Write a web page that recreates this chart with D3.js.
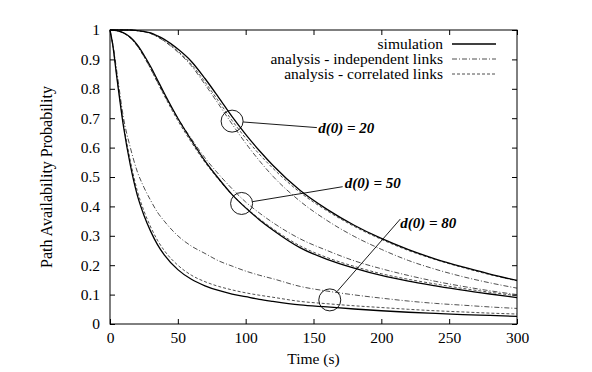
<!DOCTYPE html>
<html>
<head>
<meta charset="UTF-8">
<script src="https://d3js.org/d3.v7.min.js"></script>
<style>
  body { margin: 0; background: #fff; }
  svg text { font-family: "Liberation Serif", "Times New Roman", serif; fill: #000; }
  .axis path { display: none; }
  .axis line { stroke: #000; stroke-width: 1; }
  .axis text { font-size: 15.5px; }
</style>
</head>
<body>
<div id="chart"></div>
<script>
// time axis (s)
var times = [0, 2, 5, 10, 15, 20, 25, 30, 35, 40, 50, 60, 70, 80, 90, 100, 110, 120, 140, 160, 180, 200, 220, 240, 260, 280, 300];

// d(0) = 20
var sim20  = [1, 1, 1, 1, 1, 0.998, 0.995, 0.99, 0.98, 0.968, 0.935, 0.893, 0.835, 0.771, 0.705, 0.645, 0.59, 0.54, 0.455, 0.39, 0.336, 0.291, 0.253, 0.221, 0.194, 0.17, 0.148];
var corr20 = [1, 1, 1, 1, 1, 0.998, 0.994, 0.988, 0.977, 0.963, 0.928, 0.883, 0.823, 0.758, 0.692, 0.632, 0.578, 0.53, 0.448, 0.385, 0.332, 0.288, 0.25, 0.219, 0.192, 0.168, 0.147];
var ind20  = [1, 1, 1, 1, 1, 0.998, 0.994, 0.988, 0.977, 0.962, 0.925, 0.878, 0.815, 0.748, 0.68, 0.615, 0.556, 0.503, 0.418, 0.352, 0.298, 0.254, 0.216, 0.186, 0.161, 0.14, 0.122];

// d(0) = 50
var sim50  = [1, 1, 0.998, 0.99, 0.975, 0.95, 0.915, 0.875, 0.83, 0.785, 0.7, 0.625, 0.555, 0.495, 0.44, 0.395, 0.355, 0.32, 0.26, 0.22, 0.19, 0.165, 0.146, 0.13, 0.115, 0.102, 0.09];
var corr50 = [1, 1, 0.998, 0.99, 0.973, 0.947, 0.91, 0.868, 0.822, 0.777, 0.692, 0.618, 0.55, 0.492, 0.44, 0.397, 0.358, 0.324, 0.266, 0.226, 0.196, 0.171, 0.152, 0.136, 0.121, 0.108, 0.096];
var ind50  = [1, 1, 0.998, 0.99, 0.973, 0.946, 0.91, 0.868, 0.823, 0.78, 0.7, 0.63, 0.565, 0.51, 0.46, 0.415, 0.378, 0.345, 0.29, 0.25, 0.215, 0.188, 0.165, 0.145, 0.128, 0.113, 0.1];

// d(0) = 80
var sim80  = [1, 0.95, 0.84, 0.67, 0.54, 0.44, 0.37, 0.315, 0.27, 0.235, 0.185, 0.152, 0.13, 0.114, 0.102, 0.093, 0.084, 0.077, 0.065, 0.058, 0.051, 0.045, 0.04, 0.036, 0.032, 0.029, 0.026];
var corr80 = [1, 0.95, 0.845, 0.68, 0.555, 0.455, 0.385, 0.33, 0.285, 0.25, 0.2, 0.166, 0.144, 0.128, 0.116, 0.106, 0.098, 0.091, 0.077, 0.069, 0.062, 0.056, 0.05, 0.045, 0.041, 0.037, 0.034];
var ind80  = [1, 0.955, 0.86, 0.7, 0.6, 0.52, 0.465, 0.42, 0.38, 0.35, 0.3, 0.265, 0.24, 0.215, 0.197, 0.18, 0.166, 0.154, 0.128, 0.112, 0.099, 0.088, 0.078, 0.07, 0.064, 0.058, 0.053];

var xTicks = [0, 50, 100, 150, 200, 250, 300];
var yTicks = [0, 0.1, 0.2, 0.3, 0.4, 0.5, 0.6, 0.7, 0.8, 0.9, 1];

var legendLabels = ["simulation", "analysis - independent links", "analysis - correlated links"];

// annotations: circle position (t, p) and label anchor (t, p)
var annoLabels = ["d(0) = 20", "d(0) = 50", "d(0) = 80"];
var annoCircle = [[90, 0.69], [97, 0.41], [162, 0.082]];
var annoText   = [[153.5, 0.65], [173, 0.463], [214, 0.327]];
var annoEnd    = [[152.5, 0.668], [171.5, 0.467], [214, 0.357]];

var W = 592, H = 372;
var margin = {top: 30, right: 75, bottom: 48, left: 110};
var width = W - margin.left - margin.right,
    height = H - margin.top - margin.bottom;

var styles = {
  sim:  {stroke: "#000", width: 1.3, dash: null},
  ind:  {stroke: "#222", width: 0.8, dash: "5,2,1,2"},
  corr: {stroke: "#222", width: 0.8, dash: "3,2"}
};

var svg = d3.select("#chart").append("svg")
    .attr("width", W)
    .attr("height", H)
    .attr("font-family", "Liberation Serif, serif");

var g = svg.append("g")
    .attr("transform", "translate(" + margin.left + "," + margin.top + ")");

var x = d3.scaleLinear().domain([0, 300]).range([0, width]);
var y = d3.scaleLinear().domain([0, 1]).range([height, 0]);

// axes, ticks mirrored inside the box like gnuplot
g.append("g").attr("class", "axis")
    .attr("transform", "translate(0," + height + ")")
    .call(d3.axisBottom(x).tickValues(xTicks).tickSize(-5).tickPadding(8).tickFormat(d3.format("d")));
g.append("g").attr("class", "axis")
    .call(d3.axisTop(x).tickValues(xTicks).tickSize(-5).tickFormat(""));
g.append("g").attr("class", "axis")
    .call(d3.axisLeft(y).tickValues(yTicks).tickSize(-5).tickPadding(10).tickFormat(function(d) { return d === 0 || d === 1 ? d : d3.format(".1f")(d); }));
g.append("g").attr("class", "axis")
    .attr("transform", "translate(" + width + ",0)")
    .call(d3.axisRight(y).tickValues(yTicks).tickSize(-5).tickFormat(""));

g.selectAll(".axis").attr("font-family", null);

g.append("rect")
    .attr("width", width)
    .attr("height", height)
    .attr("fill", "none")
    .attr("stroke", "#000")
    .attr("stroke-width", 1);

var line = d3.line()
    .x(function(d, i) { return x(times[i]); })
    .y(function(d) { return y(d); })
    .curve(d3.curveMonotoneX);

var series = [
  [ind20, "ind"], [corr20, "corr"], [sim20, "sim"],
  [ind50, "ind"], [corr50, "corr"], [sim50, "sim"],
  [ind80, "ind"], [corr80, "corr"], [sim80, "sim"]
];

series.forEach(function(s) {
  var st = styles[s[1]];
  g.append("path")
    .attr("d", line(s[0]))
    .attr("fill", "none")
    .attr("stroke", st.stroke)
    .attr("stroke-width", st.width)
    .attr("stroke-dasharray", st.dash);
});

// legend
var legendKeys = ["sim", "ind", "corr"];
var legend = g.append("g").attr("transform", "translate(" + (width - 74) + ",14)");
legendLabels.forEach(function(lab, i) {
  var row = legend.append("g").attr("transform", "translate(0," + (i * 15) + ")");
  row.append("text")
    .attr("x", 0).attr("y", 5)
    .attr("text-anchor", "end")
    .style("font-size", "15.5px")
    .text(lab);
  var st = styles[legendKeys[i]];
  row.append("line")
    .attr("x1", 9).attr("x2", 53)
    .attr("y1", 0).attr("y2", 0)
    .attr("stroke", st.stroke)
    .attr("stroke-width", st.width)
    .attr("stroke-dasharray", st.dash);
});

// annotations
var r = 11;
annoLabels.forEach(function(lab, i) {
  var cx = x(annoCircle[i][0]), cy = y(annoCircle[i][1]);
  var ex = x(annoEnd[i][0]), ey = y(annoEnd[i][1]);
  var len = Math.sqrt((ex - cx) * (ex - cx) + (ey - cy) * (ey - cy));
  g.append("circle")
    .attr("cx", cx).attr("cy", cy).attr("r", r)
    .attr("fill", "none").attr("stroke", "#000").attr("stroke-width", 0.9);
  g.append("line")
    .attr("x1", cx + (ex - cx) / len * r)
    .attr("y1", cy + (ey - cy) / len * r)
    .attr("x2", ex).attr("y2", ey)
    .attr("stroke", "#000").attr("stroke-width", 0.9);
  g.append("text")
    .attr("x", x(annoText[i][0]))
    .attr("y", y(annoText[i][1]))
    .style("font-size", "15px")
    .style("font-weight", "bold")
    .style("font-style", "italic")
    .text(lab);
});

// axis titles
svg.append("text")
    .attr("x", margin.left + width / 2)
    .attr("y", 364)
    .attr("text-anchor", "middle")
    .style("font-size", "15.5px")
    .text("Time (s)");

svg.append("text")
    .attr("transform", "translate(52," + (margin.top + height / 2) + ") rotate(-90)")
    .attr("text-anchor", "middle")
    .style("font-size", "16px")
    .text("Path Availability Probability");
</script>
</body>
</html>
